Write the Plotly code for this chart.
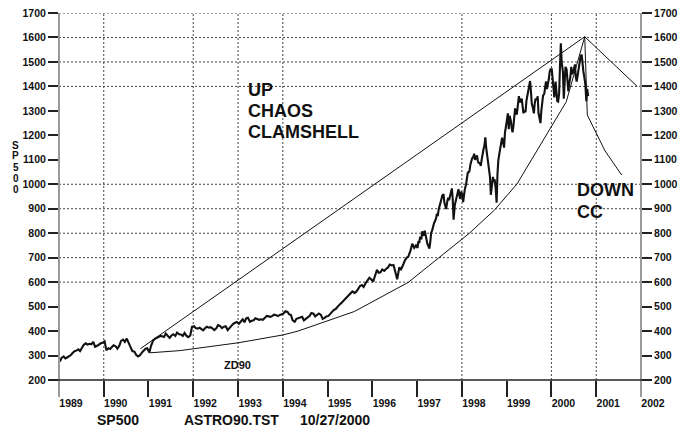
import plotly.graph_objects as go

# ---------------- data (S&P 500 readings) ----------------
# 1989-1996: two readings per month
sp_1989 = [276, 290, 296, 288, 292, 296, 302, 310, 318, 320, 325, 318,
           330, 344, 350, 345, 348, 346, 356, 336, 340, 346, 350, 352]
sp_1990 = [358, 322, 330, 327, 336, 342, 338, 328, 340, 360, 365, 356,
           369, 355, 335, 318, 316, 303, 296, 300, 312, 320, 328, 330]
sp_1991 = [312, 340, 362, 368, 372, 376, 380, 379, 376, 390, 382, 372,
           382, 387, 380, 394, 387, 386, 380, 392, 380, 375, 382, 417]
sp_1992 = [420, 412, 410, 414, 408, 403, 412, 418, 414, 416, 410, 404,
           412, 424, 420, 412, 418, 420, 404, 412, 420, 430, 434, 437]
sp_1993 = [430, 438, 448, 436, 452, 454, 438, 442, 444, 452, 450, 446,
           448, 446, 454, 462, 460, 458, 462, 467, 465, 461, 466, 468]
sp_1994 = [472, 481, 478, 468, 466, 444, 438, 450, 452, 456, 458, 444,
           450, 458, 462, 474, 471, 460, 466, 472, 466, 450, 454, 460]
sp_1995 = [462, 470, 480, 487, 490, 500, 508, 514, 522, 532, 540, 546,
           556, 562, 556, 560, 572, 584, 588, 580, 596, 606, 618, 612]
sp_1996 = [602, 624, 650, 638, 640, 652, 646, 654, 660, 672, 668, 670,
           640, 612, 660, 652, 670, 688, 700, 706, 730, 757, 740, 750]
# 1997-2000: four readings per month
sp_1997 = [740, 768, 760, 786, 775, 808, 795, 790, 810, 792, 770, 757,
           745, 737, 765, 801, 812, 830, 840, 848, 860, 880, 870, 896,
           910, 930, 940, 954, 960, 925, 915, 899, 930, 945, 935, 955,
           975, 983, 940, 855, 915, 930, 945, 955, 980, 955, 940, 970]
sp_1998 = [960, 927, 960, 980, 1000, 1020, 1048, 1049, 1055, 1080, 1100, 1105,
           1112, 1125, 1100, 1112, 1118, 1095, 1085, 1090, 1075, 1100, 1130, 1140,
           1160, 1192, 1150, 1120, 1100, 1060, 1030, 957, 990, 1030, 1010, 1020,
           980, 925, 1040, 1098, 1130, 1150, 1170, 1190, 1170, 1150, 1210, 1245]
sp_1999 = [1265, 1290, 1225, 1280, 1260, 1230, 1212, 1238, 1280, 1310, 1290, 1286,
           1330, 1360, 1340, 1335, 1350, 1320, 1290, 1302, 1295, 1340, 1360, 1380,
           1400, 1422, 1380, 1330, 1310, 1290, 1330, 1350, 1345, 1360, 1290, 1275,
           1250, 1300, 1330, 1362, 1370, 1400, 1420, 1389, 1410, 1430, 1460, 1470]
sp_2000 = [1470, 1440, 1400, 1355, 1420, 1390, 1340, 1338, 1370, 1480, 1576, 1500,
           1460, 1350, 1430, 1480, 1470, 1420, 1380, 1410, 1440, 1480, 1450, 1455,
           1470, 1490, 1440, 1420, 1450, 1480, 1500, 1520, 1530, 1480, 1460, 1440,
           1408, 1340, 1390, 1360]

# upper clamshell line, lower curve (ZD90) and the DOWN lines
upper_dates = ["1990-10-27", "2000-09-29"]
upper_vals = [328, 1603]
down_right_dates = ["2000-09-29", "2001-12-01"]
down_right_vals = [1603, 1400]
lower_dates = ["1991-01-10", "1991-09-12", "1993-01-01", "1994-01-01", "1994-05-05",
               "1995-04-08", "1995-08-08", "1996-10-20", "1998-03-03", "1998-09-24",
               "1999-03-26", "2000-05-01", "2000-09-29", "2000-10-20", "2001-03-14",
               "2001-07-27"]
lower_vals = [311, 320, 352, 384, 400, 459, 480, 599, 800, 895,
              1001, 1337, 1603, 1283, 1136, 1038]

y_ticks = list(range(200, 1800, 100))
h_grid = [600, 700, 800, 900, 1000, 1400, 1500, 1600, 1700]
v_grid = ["1990-01-01", "1992-01-01", "1993-01-01", "1994-01-01",
          "1998-01-01", "2000-01-01", "2001-01-01"]

# --------------- assemble dates ---------------
dates, vals = [], []
for yr, arr in [(1989, sp_1989), (1990, sp_1990), (1991, sp_1991), (1992, sp_1992),
                (1993, sp_1993), (1994, sp_1994), (1995, sp_1995), (1996, sp_1996)]:
    for i, v in enumerate(arr):
        m = i // 2 + 1
        d = 8 if i % 2 == 0 else 22
        dates.append(f"{yr}-{m:02d}-{d:02d}")
        vals.append(v)
for yr, arr in [(1997, sp_1997), (1998, sp_1998), (1999, sp_1999), (2000, sp_2000)]:
    for i, v in enumerate(arr):
        m = i // 4 + 1
        d = [4, 11, 18, 25][i % 4]
        if yr == 2000 and m == 10:
            d = [4, 12, 19, 27][i % 4]
        dates.append(f"{yr}-{m:02d}-{d:02d}")
        vals.append(v)

fig = go.Figure()
line_style = dict(color="#111111", width=1)
fig.add_trace(go.Scatter(x=upper_dates, y=upper_vals, mode="lines", line=line_style, hoverinfo="skip"))
fig.add_trace(go.Scatter(x=lower_dates, y=lower_vals, mode="lines", line=line_style, hoverinfo="skip"))
fig.add_trace(go.Scatter(x=dates, y=vals, mode="lines", line=dict(color="#111111", width=2.1)))
fig.add_trace(go.Scatter(x=down_right_dates, y=down_right_vals, mode="lines", line=line_style,
                         hoverinfo="skip", yaxis="y2"))

shapes = []
for v in h_grid:
    shapes.append(dict(type="line", xref="paper", x0=0, x1=1, yref="y", y0=v, y1=v,
                       line=dict(color="#444444", width=1, dash="2px,2px"), layer="below"))
for d in v_grid:
    shapes.append(dict(type="line", xref="x", x0=d, x1=d, yref="paper", y0=0, y1=1,
                       line=dict(color="#444444", width=1, dash="2px,2px"), layer="below"))
# grey frame verticals extending below the axis
for xp in [0, 1]:
    shapes.append(dict(type="line", xref="paper", x0=xp, x1=xp, yref="paper", y0=-0.046, y1=1,
                       line=dict(color="#9a9a9a", width=2)))
shapes.append(dict(type="line", xref="paper", x0=-0.0172, x1=1.0189, yref="paper", y0=0, y1=0,
                   line=dict(color="#222222", width=1.5)))

tickfont = dict(family="Liberation Sans, Arial", size=10.5, color="#111111", weight="bold")
big = dict(family="Liberation Sans, Arial", size=18, color="#111111", weight="bold")
mid = dict(family="Liberation Sans, Arial", size=14, color="#111111", weight="bold")

ann = []
def txt(s, x, y, font, xanchor="left"):
    ann.append(dict(text=s, x=x, y=y, xref="paper", yref="paper", showarrow=False,
                    xanchor=xanchor, yanchor="middle", font=font))

txt("UP", 0.3213, 0.7902, big)
txt("CHAOS", 0.3213, 0.7343, big)
txt("CLAMSHELL", 0.3213, 0.6771, big)
txt("DOWN", 0.8866, 0.5177, big)
txt("CC", 0.8866, 0.4586, big)
txt("ZD90", 0.2796, 0.0409, dict(family="Liberation Sans, Arial", size=11, color="#111111", weight="bold"))
txt("SP500", 0.0619, -0.109, mid)
txt("ASTRO90.TST", 0.2108, -0.109, mid)
txt("10/27/2000", 0.4107, -0.109, mid)
for ch, yc in zip("SP500", [145, 155.8, 167.5, 178.3, 189.7]):
    txt(ch, -0.0747, (380 - yc) / 367, dict(family="Liberation Sans, Arial", size=10, color="#111111", weight="bold"),
        xanchor="center")

yax = dict(range=[200, 1700], tickvals=y_ticks, ticks="outside", ticklen=10, tickwidth=1.5,
           tickcolor="#222222", showgrid=False, zeroline=False, showline=False, tickfont=tickfont,
           automargin=False, ticklabeloverflow="allow")

# the page body adds an 8px offset, so the figure is 8px smaller and margins shifted
fig.update_layout(
    template="none",
    width=678, height=420,
    margin=dict(l=51, r=45, t=5, b=48, autoexpand=False),
    paper_bgcolor="white", plot_bgcolor="white",
    showlegend=False,
    xaxis=dict(type="date", range=["1989-01-01", "2002-01-01"], dtick="M12", tick0="1989-01-01",
               tickformat="%Y", ticks="outside", ticklen=16, tickwidth=1.5, tickcolor="#222222",
               ticklabelshift=12, ticklabelstandoff=-3, showgrid=False, zeroline=False, showline=False,
               tickfont=tickfont, automargin=False),
    yaxis=dict(**yax, side="left"),
    yaxis2=dict(**yax, side="right", overlaying="y"),
    shapes=shapes,
    annotations=ann,
)

fig.write_html("out.html")
